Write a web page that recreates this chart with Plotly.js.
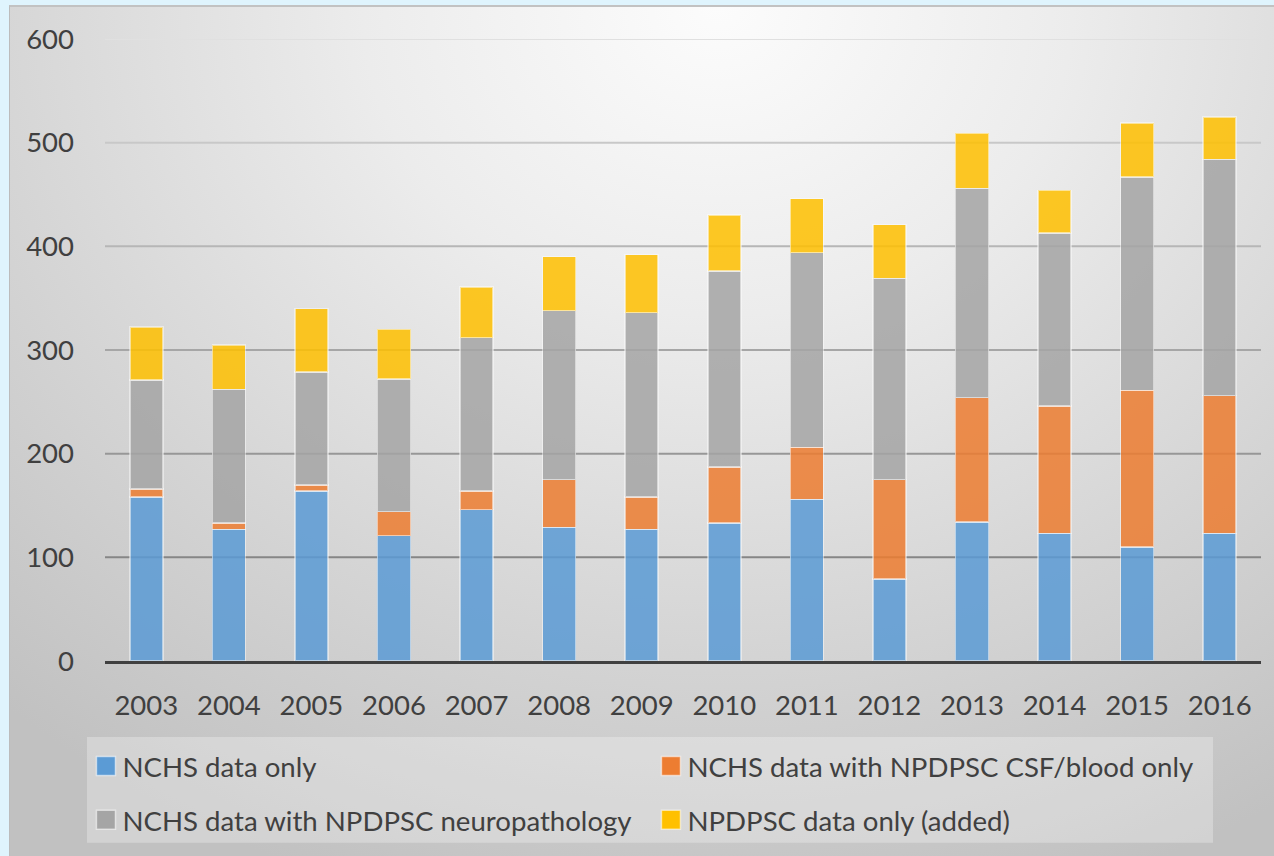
<!DOCTYPE html>
<html>
<head>
<meta charset="utf-8">
<script src="https://cdn.plot.ly/plotly-3.0.1.min.js"></script>
<style>
  html, body { margin: 0; padding: 0; }
  body { width: 1274px; height: 856px; background: #dff4fd; position: relative; overflow: hidden; }
  #box {
    position: absolute; left: 9px; top: 5px; width: 1265px; height: 851px;
    box-sizing: border-box;
    border-top: 2px solid #c2c2c2; border-left: 1px solid #bcbcbc;
    background: radial-gradient(ellipse 85% 110% at 56% 0%, #fcfcfc 0%, #ececec 33%, #d5d5d5 68%, #c1c1c1 100%);
  }
  #chart { position: absolute; left: 0; top: 0; width: 1274px; height: 856px; }
</style>
</head>
<body>
<div id="box"></div>
<div id="chart"></div>
<script>
// ---- data ----
const years = ["2003","2004","2005","2006","2007","2008","2009","2010","2011","2012","2013","2014","2015","2016"];
const nchsOnly      = [158, 127, 164, 121, 146, 129, 127, 133, 156,  79, 134, 123, 110, 123];
const nchsCsfBlood  = [  8,   6,   6,  23,  18,  46,  31,  54,  50,  96, 120, 123, 151, 133];
const nchsNeuropath = [105, 129, 109, 128, 148, 163, 178, 189, 188, 194, 202, 167, 206, 228];
const npdpscOnly    = [ 51,  43,  61,  48,  49,  52,  56,  54,  52,  52,  53,  41,  52,  41];
const seriesNames = ["NCHS data only", "NCHS data with NPDPSC CSF/blood only",
                     "NCHS data with NPDPSC neuropathology", "NPDPSC data only (added)"];
const yTicks = [0, 100, 200, 300, 400, 500, 600];

// ---- styles ----
const colors = ["#5B9BD5", "#ED7D31", "#A5A5A5", "#FFC000"];
const gridShades = {100: "#868686", 200: "#979797", 300: "#a6a6a6", 400: "#b6b6b6", 500: "#c8c8c8", 600: "#e0e0e0"};
const FONT = "Lato, 'Open Sans', sans-serif";
const TXT = "#404040";

const seriesValues = [nchsOnly, nchsCsfBlood, nchsNeuropath, npdpscOnly];
const legendFor = ["legend", "legend", "legend2", "legend2"];

const traces = seriesValues.map((vals, i) => ({
  type: "bar",
  name: seriesNames[i],
  x: years,
  y: vals,
  legend: legendFor[i],
  marker: { color: colors[i], opacity: 0.85, line: { color: "rgba(255,255,255,0.55)", width: 1.5 } },
  hoverinfo: "x+y+name"
}));

const shapes = yTicks.filter(v => v > 0).map(v => ({
  type: "line", xref: "paper", yref: "y", x0: 0, x1: 1, y0: v, y1: v,
  line: { color: gridShades[v], width: 2 }, layer: "below"
}));
// legend box
shapes.push({
  type: "rect", xref: "paper", yref: "paper",
  x0: -0.0156, x1: 0.9585, y0: -0.1223, y1: -0.2921,
  fillcolor: "rgba(255,255,255,0.28)", line: { width: 0 }, layer: "below"
});

const legendCommon = {
  orientation: "h", xanchor: "left", yanchor: "middle",
  bgcolor: "rgba(0,0,0,0)", borderwidth: 0,
  font: { family: FONT, size: 27.6, color: TXT },
  entrywidth: 520, entrywidthmode: "pixels", traceorder: "normal",
  itemclick: false, itemdoubleclick: false
};

const layout = {
  width: 1274, height: 856,
  margin: { l: 105, r: 13, t: 39, b: 193 },
  paper_bgcolor: "rgba(0,0,0,0)",
  plot_bgcolor: "rgba(0,0,0,0)",
  barmode: "stack",
  bargap: 0.6,
  font: { family: FONT, size: 27, color: TXT },
  xaxis: {
    type: "category", showgrid: false, zeroline: false,
    showline: true, linecolor: "#404040", linewidth: 3,
    ticks: "", ticklabelstandoff: 18,
    tickfont: { family: FONT, size: 27.5, color: TXT }
  },
  yaxis: {
    range: [0, 600], tickvals: yTicks, showgrid: false, zeroline: false,
    showline: false, ticks: "", ticklabelstandoff: 30,
    tickfont: { family: FONT, size: 27.5, color: TXT }
  },
  legend: Object.assign({}, legendCommon, { x: -0.0195, y: -0.1688 }),
  legend2: Object.assign({}, legendCommon, { x: -0.0195, y: -0.2553 }),
  shapes: shapes,
  showlegend: true
};

Plotly.newPlot("chart", traces, layout, { displayModeBar: false, staticPlot: true }).then(() => {
  document.querySelectorAll(".legendpoints path").forEach(p => {
    p.setAttribute("d", "M13,9.5H-6V-9.5H13Z");
  });
});
</script>
</body>
</html>
